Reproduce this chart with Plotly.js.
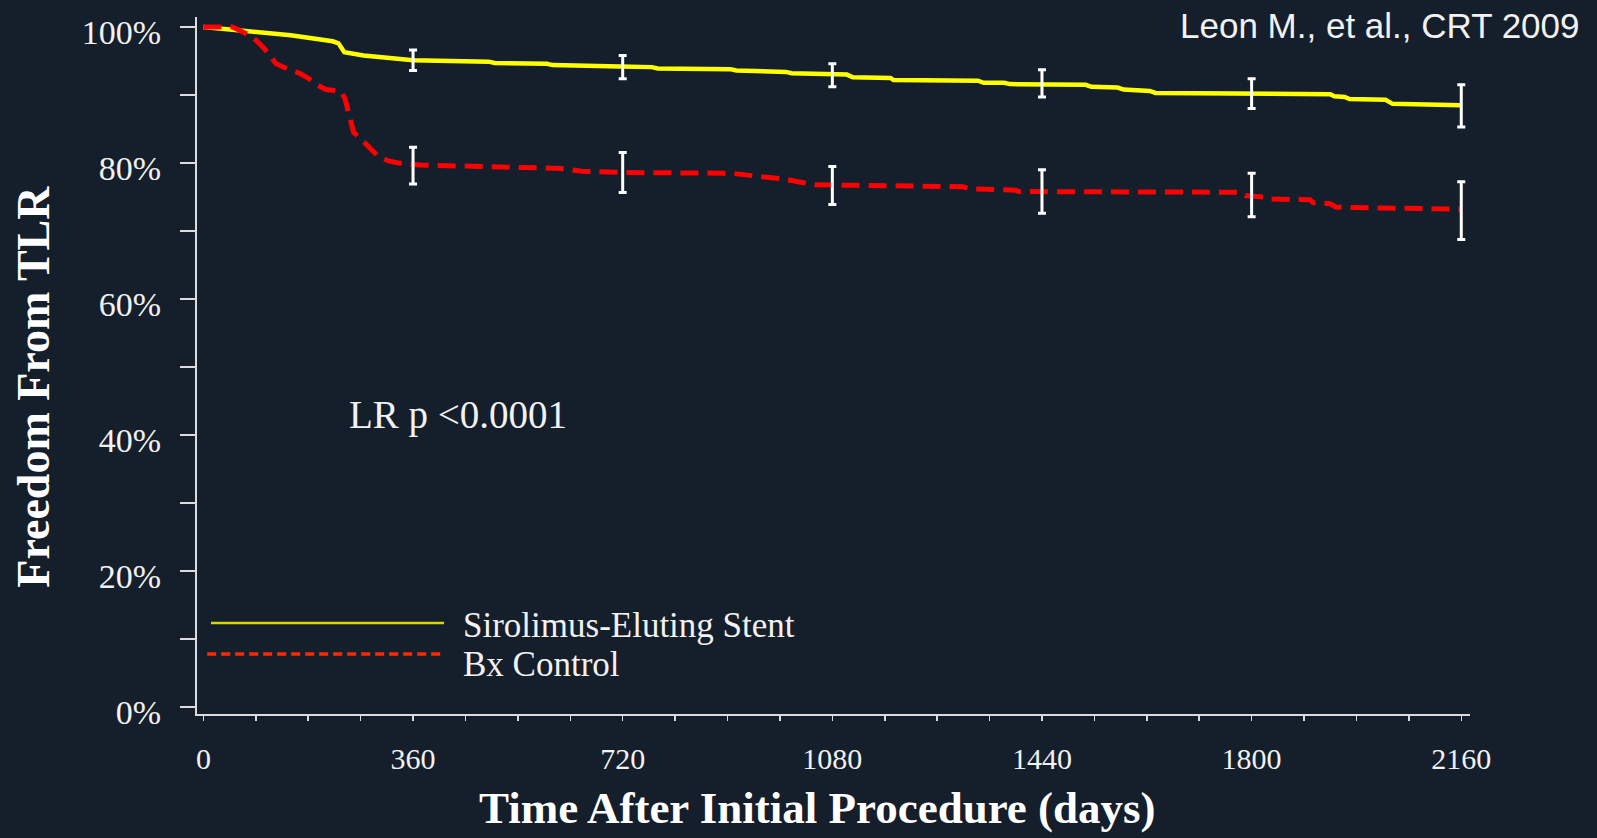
<!DOCTYPE html>
<html>
<head>
<meta charset="utf-8">
<script src="https://cdn.plot.ly/plotly-3.0.1.min.js"></script>
<style>
  html, body { margin: 0; padding: 0; background: #151e2b; }
  #chart { width: 1597px; height: 838px; }
</style>
</head>
<body>
<div id="chart"></div>
<script>
// Kaplan-Meier freedom from target lesion revascularization (%), by days after the index procedure
const sesDays = [0, 30, 60, 100, 150, 190, 222, 232, 242, 275, 330, 360, 490, 500, 590, 600, 715, 770, 780, 905, 915, 1000, 1010, 1105, 1115, 1180, 1185, 1330, 1340, 1375, 1385, 1515, 1525, 1570, 1580, 1625, 1635, 1780, 1935, 1942, 1960, 1968, 2030, 2042, 2160];
const sesFree = [100, 99.8, 99.5, 99.2, 98.8, 98.3, 97.9, 97.6, 96.3, 95.8, 95.4, 95.1, 94.9, 94.7, 94.6, 94.4, 94.2, 94.1, 93.9, 93.8, 93.6, 93.4, 93.2, 93.0, 92.6, 92.5, 92.2, 92.1, 91.8, 91.8, 91.6, 91.5, 91.2, 91.1, 90.8, 90.6, 90.3, 90.2, 90.1, 89.8, 89.7, 89.4, 89.3, 88.7, 88.5];

const bxDays = [0, 50, 60, 85, 105, 125, 140, 165, 180, 195, 210, 235, 243, 250, 258, 270, 285, 300, 318, 335, 372, 560, 615, 650, 720, 905, 925, 960, 1000, 1030, 1050, 1305, 1315, 1395, 1400, 1780, 1790, 1820, 1830, 1900, 1905, 1935, 1945, 2160];
const bxFree = [100, 100, 99.6, 98.5, 96.8, 94.6, 94.0, 93.2, 92.5, 91.5, 90.8, 90.6, 89.5, 86.8, 84.5, 83.6, 82.3, 81.0, 80.3, 80.0, 79.7, 79.4, 79.2, 78.8, 78.6, 78.5, 78.3, 78.0, 77.6, 77.1, 76.8, 76.5, 76.2, 76.0, 75.8, 75.7, 75.2, 75.0, 74.7, 74.6, 74.2, 74.0, 73.5, 73.2];

// Yearly estimates with their error bars
const markDays = [360, 720, 1080, 1440, 1800, 2160];
const sesMark = [95.1, 94.1, 92.9, 91.7, 90.2, 88.4];
const sesErr = [1.5, 1.7, 1.7, 2.0, 2.2, 3.1];
const bxMark = [79.6, 78.6, 76.7, 75.8, 75.3, 73.0];
const bxErr = [2.7, 2.95, 2.8, 3.2, 3.2, 4.25];

const seriesNames = ['Sirolimus-Eluting Stent', 'Bx Control'];
const xTickVals = [0, 360, 720, 1080, 1440, 1800, 2160];
const xTickText = ['0', '360', '720', '1080', '1440', '1800', '2160'];
const yTickVals = [0, 10, 20, 30, 40, 50, 60, 70, 80, 90, 100];
const yTickText = ['0%', '', '20%', '', '40%', '', '60%', '', '80%', '', '100%'];
const xTitle = 'Time After Initial Procedure (days)';
const yTitle = 'Freedom From TLR';
const pValueText = 'LR p <0.0001';
const sourceText = 'Leon M., et al., CRT 2009';

const BG = '#151e2b';
const INK = '#f2f2f2';
const AXIS = '#dcdcdc';
const SERIF = '"Liberation Serif", "Times New Roman", serif';
const SANS = '"Liberation Sans", Arial, sans-serif';
const YELLOW = '#ffff00';
const RED = '#ff0000';

const traces = [
  {
    x: sesDays, y: sesFree, name: seriesNames[0], type: 'scatter', mode: 'lines',
    line: { color: YELLOW, width: 4.5, shape: 'linear' }, hoverinfo: 'skip'
  },
  {
    x: bxDays, y: bxFree, name: seriesNames[1], type: 'scatter', mode: 'lines',
    line: { color: RED, width: 5, dash: '18px,9px', shape: 'linear' }, hoverinfo: 'skip'
  },
  {
    x: markDays, y: sesMark, type: 'scatter', mode: 'markers',
    marker: { size: 1, color: 'rgba(0,0,0,0)' },
    error_y: { type: 'data', array: sesErr, visible: true, color: '#ffffff', thickness: 3, width: 4 },
    hoverinfo: 'skip'
  },
  {
    x: markDays, y: bxMark, type: 'scatter', mode: 'markers',
    marker: { size: 1, color: 'rgba(0,0,0,0)' },
    error_y: { type: 'data', array: bxErr, visible: true, color: '#ffffff', thickness: 3, width: 4 },
    hoverinfo: 'skip'
  }
];

const titleFont = { family: SERIF, size: 45, color: '#ffffff', weight: 'bold' };

const layout = {
  width: 1597, height: 838,
  paper_bgcolor: BG, plot_bgcolor: BG,
  showlegend: false,
  margin: { l: 197, r: 127, t: 17, b: 124 },
  font: { family: SERIF, color: INK },
  xaxis: {
    range: [-11, 2175], fixedrange: true,
    showgrid: false, zeroline: false,
    showline: true, linecolor: AXIS, linewidth: 2,
    tickmode: 'array', tickvals: xTickVals, ticktext: xTickText,
    ticks: 'outside', ticklen: 5, tickwidth: 1.5, tickcolor: AXIS,
    minor: { dtick: 90, tick0: 0, ticks: 'outside', ticklen: 5, tickwidth: 1.5, tickcolor: AXIS, showgrid: false },
    tickfont: { family: SERIF, size: 30, color: INK },
    ticklabelstandoff: 12,
    automargin: false
  },
  yaxis: {
    range: [-1.03, 101.47], fixedrange: true,
    showgrid: false, zeroline: false,
    showline: true, linecolor: AXIS, linewidth: 2,
    tickmode: 'array', tickvals: yTickVals, ticktext: yTickText,
    ticks: 'outside', ticklen: 15, tickwidth: 1.5, tickcolor: AXIS,
    tickfont: { family: SERIF, size: 34, color: INK },
    ticklabelstandoff: 12,
    ticklabelshift: 5,
    automargin: false
  },
  shapes: [
    { type: 'line', xref: 'paper', yref: 'paper', x0: 0.011, x1: 0.194, y0: 0.1306, y1: 0.1306,
      line: { color: '#d8d800', width: 2.5 } },
    { type: 'line', xref: 'paper', yref: 'paper', x0: 0.008, x1: 0.194, y0: 0.0861, y1: 0.0861,
      line: { color: '#ff2a00', width: 3.5, dash: '9px,5px' } }
  ],
  annotations: [
    // axis titles
    { xref: 'paper', yref: 'paper', x: 0.4878, y: -0.1349, xanchor: 'center', yanchor: 'middle',
      text: xTitle, showarrow: false, font: titleFont },
    { xref: 'paper', yref: 'paper', x: -0.1284, y: 0.469, xanchor: 'center', yanchor: 'middle',
      text: yTitle, textangle: -90, showarrow: false, font: { family: SERIF, size: 46, color: '#ffffff', weight: 'bold' } },
    // legend labels
    { xref: 'paper', yref: 'paper', x: 0.2074, y: 0.1263, xanchor: 'left', yanchor: 'middle',
      text: seriesNames[0], showarrow: false, font: { family: SERIF, size: 35, color: INK } },
    { xref: 'paper', yref: 'paper', x: 0.2074, y: 0.0717, xanchor: 'left', yanchor: 'middle',
      text: seriesNames[1], showarrow: false, font: { family: SERIF, size: 35, color: INK } },
    // log-rank test and source
    { xref: 'paper', yref: 'paper', x: 0.1178, y: 0.429, xanchor: 'left', yanchor: 'middle',
      text: pValueText, showarrow: false, font: { family: SERIF, size: 39, color: INK } },
    { xref: 'paper', yref: 'paper', x: 1.088, y: 0.9885, xanchor: 'right', yanchor: 'middle',
      text: sourceText, showarrow: false, font: { family: SANS, size: 35, color: INK } }
  ]
};

Plotly.newPlot('chart', traces, layout, { staticPlot: true, displayModeBar: false });
</script>
</body>
</html>
